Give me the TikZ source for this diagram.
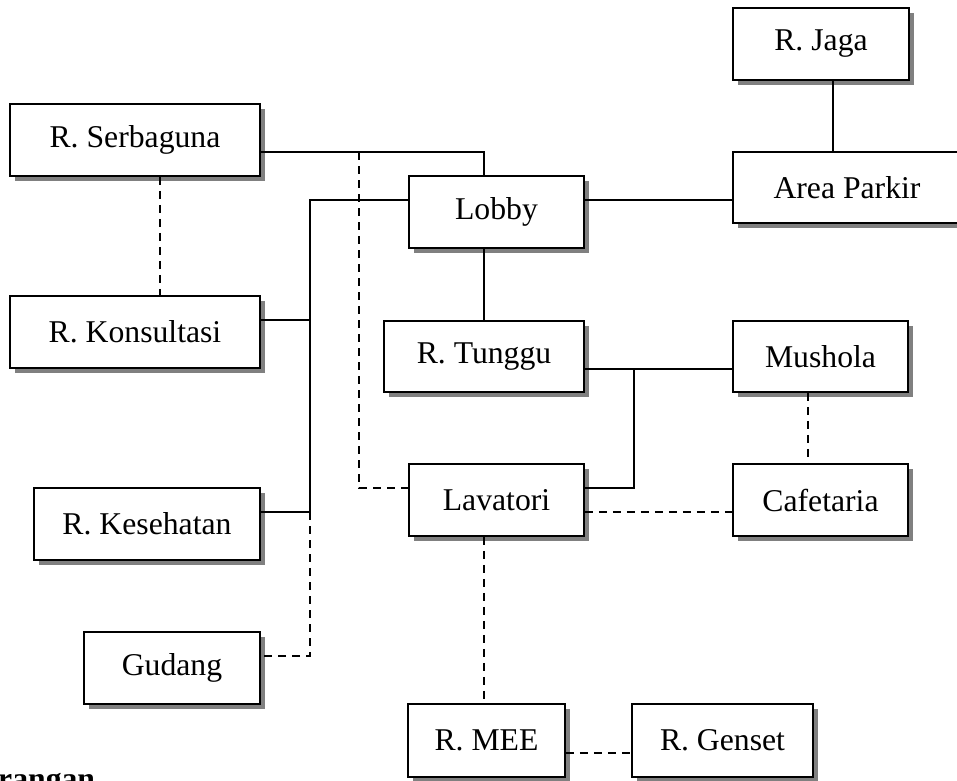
\documentclass[tikz,border=0pt]{standalone}
\usepackage{fontspec}
\setmainfont{Liberation Serif}
\usetikzlibrary{shadows}
\begin{document}
\begin{tikzpicture}[x=1pt,y=-1pt,
  room/.style 2 args={draw=black, line width=1.6pt, fill=white, inner sep=0pt,
    minimum width=#1pt, minimum height=#2pt,
    font=\fontsize{31.7}{38}\selectfont,
    drop shadow={shadow xshift=5pt, shadow yshift=-5pt, fill=black!50, opacity=1}},
  link/.style={line width=1.3pt},
  weak/.style={line width=1.3pt, dash pattern=on 8pt off 6pt}]
\useasboundingbox (0,0) rectangle (957,780);
\clip (0,0) rectangle (957,780);

% rooms
\node[room={176}{72}]  (jaga)  at (821,44)    {R. Jaga};
\node[room={228}{71}]  (parkir) at (847,187.5) {Area Parkir};
\node[room={250}{72}]  (serba) at (135,140)   {R. Serbaguna};
\node[room={175}{72}]  (lobby) at (496.5,212) {Lobby};
\node[room={250}{72}]  (konsul) at (135,332)  {R. Konsultasi};
\node[room={200}{71}]  (tunggu) at (484,356.5) {R. Tunggu};
\node[room={175}{71}]  (mushola) at (820.5,356.5) {Mushola};
\node[room={226}{72}]  (sehat) at (147,524)   {R. Kesehatan};
\node[room={175}{72}]  (lava)  at (496.5,500) {Lavatori};
\node[room={175}{72}]  (cafe)  at (820.5,500) {Cafetaria};
\node[room={176}{72}]  (gudang) at (172,668)  {Gudang};
\node[room={157}{73}]  (mee)   at (486.5,740.5) {R. MEE};
\node[room={181}{73}]  (genset) at (722.5,740.5) {R. Genset};

\node[anchor=base west, inner sep=0pt, font=\fontsize{31.7}{38}\selectfont\bfseries]
  (ket) at (-2,789) {rangan};

% routing points
\coordinate (jx)  at (833,0);
\coordinate (ly)  at (0,200);
\coordinate (ky)  at (0,320);
\coordinate (sx)  at (484,152);
\coordinate (dx)  at (359,152);
\coordinate (bus) at (310,200);
\coordinate (bx)  at (310,512);
\coordinate (gx)  at (310,656);
\coordinate (tj)  at (634,369);
\coordinate (lj)  at (634,488);
\coordinate (dl)  at (359,488);
\coordinate (cy)  at (0,512);
\coordinate (my)  at (0,753);
\coordinate (kx)  at (160,0);
\coordinate (mx)  at (808,0);

% solid connections
\draw[link] (jaga.south -| jx) -- (parkir.north -| jx);
\draw[link] (lobby.east |- ly) -- (parkir.west |- ly);
\draw[link] (serba.east |- sx) -- (sx) -- (lobby.north -| sx);
\draw[link] (lobby.west |- ly) -- (bus) -- (bx);
\draw[link] (konsul.east |- ky) -- (bus |- ky);
\draw[link] (sehat.east |- bx) -- (bx);
\draw[link] (lobby.south -| sx) -- (tunggu.north -| sx);
\draw[link] (tunggu.east |- tj) -- (mushola.west |- tj);
\draw[link] (tj) -- (lj) -- (lava.east |- lj);

% dashed connections
\draw[weak] (serba.south -| kx) -- (konsul.north -| kx);
\draw[weak] (dx) -- (dl) -- (lava.west |- dl);
\draw[weak] (bx) -- (gx) -- (gudang.east |- gx);
\draw[weak] (lava.east |- cy) -- (cafe.west |- cy);
\draw[weak] (mushola.south -| mx) -- (cafe.north -| mx);
\draw[weak] (lava.south -| sx) -- (mee.north -| sx);
\draw[weak] (mee.east |- my) -- (genset.west |- my);
\end{tikzpicture}
\end{document}
